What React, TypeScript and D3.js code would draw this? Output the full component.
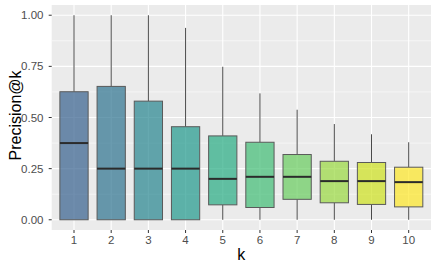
import React from "react";
import * as d3 from "d3";

const categories = ["1", "2", "3", "4", "5", "6", "7", "8", "9", "10"];
const whiskerLow = [0, 0, 0, 0, 0, 0, 0, 0, 0, 0];
const q1 = [0, 0, 0, 0, 0.073, 0.06, 0.1, 0.083, 0.075, 0.063];
const median = [0.375, 0.25, 0.25, 0.25, 0.2, 0.21, 0.21, 0.189, 0.189, 0.184];
const q3 = [0.626, 0.652, 0.58, 0.455, 0.41, 0.379, 0.319, 0.286, 0.28, 0.257];
const whiskerHigh = [1, 1, 1, 0.938, 0.748, 0.618, 0.538, 0.468, 0.418, 0.379];
const yTicks = [0, 0.25, 0.5, 0.75, 1];
const yMinor = [0.125, 0.375, 0.625, 0.875];

const W = 436;
const H = 269;
const panel = { left: 51.7, right: 431, top: 5, bottom: 230 };

export default function App() {
  const x = d3
    .scaleBand()
    .domain(categories)
    .range([panel.left, panel.right])
    .paddingOuter(0.1)
    .paddingInner(0);
  const step = x.step();
  const y = d3.scaleLinear().domain([-0.05, 1.05]).range([panel.bottom, panel.top]);
  const boxW = step * 0.76;
  const color = (i: number) => d3.interpolateViridis(0.3 + (0.7 * i) / (categories.length - 1));
  const font = "'Liberation Sans', Arial, sans-serif";

  return (
    <svg width={W} height={H} style={{ position: "absolute", left: 0, top: 0 }}>
      <rect x={0} y={0} width={W} height={H} fill="#fff" />
      <rect
        x={panel.left}
        y={panel.top}
        width={panel.right - panel.left}
        height={panel.bottom - panel.top}
        fill="#EBEBEB"
      />
      {yMinor.map((t) => (
        <line key={"mi" + t} x1={panel.left} x2={panel.right} y1={y(t)} y2={y(t)} stroke="#fff" strokeWidth={0.55} />
      ))}
      {yTicks.map((t) => (
        <line key={"ma" + t} x1={panel.left} x2={panel.right} y1={y(t)} y2={y(t)} stroke="#fff" strokeWidth={1.1} />
      ))}
      {categories.map((c) => {
        const cx = x(c)! + step / 2;
        return <line key={"vg" + c} x1={cx} x2={cx} y1={panel.top} y2={panel.bottom} stroke="#fff" strokeWidth={1.1} />;
      })}
      {categories.map((c, i) => {
        const cx = x(c)! + step / 2;
        return (
          <g key={"b" + c}>
            <line x1={cx} x2={cx} y1={y(whiskerHigh[i])} y2={y(q3[i])} stroke="#4a4a4a" strokeWidth={1} />
            <line x1={cx} x2={cx} y1={y(q1[i])} y2={y(whiskerLow[i])} stroke="#4a4a4a" strokeWidth={1} />
            <rect
              x={cx - boxW / 2}
              y={y(q3[i])}
              width={boxW}
              height={y(q1[i]) - y(q3[i])}
              fill={color(i)}
              fillOpacity={0.7}
              stroke="#5a5a5a"
              strokeWidth={1}
            />
            <line
              x1={cx - boxW / 2}
              x2={cx + boxW / 2}
              y1={y(median[i])}
              y2={y(median[i])}
              stroke="#2b2b2b"
              strokeWidth={2}
            />
          </g>
        );
      })}
      {yTicks.map((t) => (
        <g key={"yt" + t}>
          <line x1={panel.left - 3} x2={panel.left} y1={y(t)} y2={y(t)} stroke="#333" strokeWidth={1} />
          <text
            x={43.5}
            y={y(t)}
            textAnchor="end"
            dominantBaseline="central"
            fontSize={11.5}
            fill="#4D4D4D"
            fontFamily={font}
          >
            {d3.format(".2f")(t)}
          </text>
        </g>
      ))}
      {categories.map((c) => {
        const cx = x(c)! + step / 2;
        return (
          <g key={"xt" + c}>
            <line x1={cx} x2={cx} y1={panel.bottom} y2={panel.bottom + 3} stroke="#333" strokeWidth={1} />
            <text x={cx} y={panel.bottom + 14} textAnchor="middle" fontSize={11.5} fill="#4D4D4D" fontFamily={font}>
              {c}
            </text>
          </g>
        );
      })}
      <text x={(panel.left + panel.right) / 2} y={260} textAnchor="middle" fontSize={16} fill="#000" fontFamily={font}>
        k
      </text>
      <text
        transform={`translate(20.5, 115.5) rotate(-90)`}
        textAnchor="middle"
        fontSize={16}
        fill="#000"
        fontFamily={font}
      >
        Precision@k
      </text>
    </svg>
  );
}
